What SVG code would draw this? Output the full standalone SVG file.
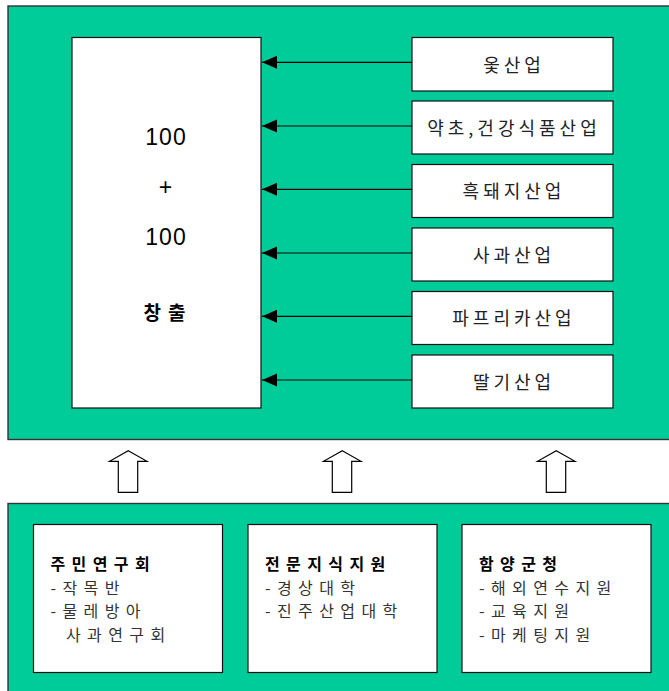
<svg xmlns="http://www.w3.org/2000/svg" width="669" height="691" viewBox="0 0 669 691">
<defs>
<style>
.panel{fill:#00CC99;stroke:#333;stroke-width:1.4}
.box{fill:#fff;stroke:#111;stroke-width:1.2}
.lbl{font-family:"Noto Sans CJK KR","Liberation Sans",sans-serif;font-size:18px;letter-spacing:4px;fill:#222;text-anchor:middle}
.num{font-family:"Liberation Sans","Noto Sans CJK KR",sans-serif;font-size:23px;letter-spacing:1px;fill:#000;text-anchor:middle}
.ttl{font-family:"Noto Sans CJK KR",sans-serif;font-size:16px;font-weight:bold;letter-spacing:6.4px;fill:#000}
.body{font-family:"Noto Sans CJK KR",sans-serif;font-size:16px;letter-spacing:6.4px;fill:#333}
.conn{stroke:#000;stroke-width:1.2;fill:none}
.hollow{fill:#fff;stroke:#000;stroke-width:1.2;stroke-linejoin:miter}
</style>
<marker id="ah" markerUnits="userSpaceOnUse" markerWidth="16" markerHeight="14" refX="15" refY="7" orient="auto" viewBox="0 0 16 14">
<path d="M0,0.5 L15,7 L0,13.5 Z" fill="#000"/>
</marker>
</defs>
<g id="top-panel"><rect class="panel" x="8" y="6" width="675" height="433.5"/></g>
<g id="bottom-panel"><rect class="panel" x="8" y="503.5" width="675" height="200"/></g>
<g id="center-box">
<rect class="box" x="72" y="37.5" width="189" height="370.5"/>
<text class="num" x="166" y="144.5">100</text>
<text class="num" x="166" y="195">+</text>
<text class="num" x="166" y="245">100</text>
<text class="lbl" x="168" y="320" style="font-weight:bold;font-size:19px;letter-spacing:7px;fill:#000">창출</text>
</g>
<g id="ind1"><rect class="box" x="412" y="37.5" width="201" height="53.5"/><text class="lbl" x="514" y="71.5">옻산업</text></g>
<g id="ind2"><rect class="box" x="412" y="101" width="201" height="53"/><text class="lbl" x="514" y="134.5">약초,건강식품산업</text></g>
<g id="ind3"><rect class="box" x="412" y="164.5" width="201" height="53"/><text class="lbl" x="514" y="198">흑돼지산업</text></g>
<g id="ind4"><rect class="box" x="412" y="228" width="201" height="53"/><text class="lbl" x="514" y="261.5">사과산업</text></g>
<g id="ind5"><rect class="box" x="412" y="291.5" width="201" height="53"/><text class="lbl" x="514" y="325">파프리카산업</text></g>
<g id="ind6"><rect class="box" x="412" y="355" width="201" height="53"/><text class="lbl" x="514" y="388.5">딸기산업</text></g>
<g id="sup1">
<rect class="box" x="33.5" y="524.5" width="189" height="148"/>
<text class="ttl" x="50.5" y="570">주민연구회</text>
<text class="body" x="50.5" y="594">-작목반</text>
<text class="body" x="50.5" y="617.3">-물레방아</text>
<text class="body" x="66" y="640.6">사과연구회</text>
</g>
<g id="sup2">
<rect class="box" x="248" y="524.5" width="189" height="148"/>
<text class="ttl" x="265" y="570">전문지식지원</text>
<text class="body" x="265" y="594">-경상대학</text>
<text class="body" x="265" y="617.3">-진주산업대학</text>
</g>
<g id="sup3">
<rect class="box" x="462" y="524.5" width="189" height="148"/>
<text class="ttl" x="479" y="570">함양군청</text>
<text class="body" x="479" y="594">-해외연수지원</text>
<text class="body" x="479" y="617.3">-교육지원</text>
<text class="body" x="479" y="640.6">-마케팅지원</text>
</g>
<g id="connectors">
<line class="conn" x1="412" y1="62.3" x2="262" y2="62.3" marker-end="url(#ah)"/>
<line class="conn" x1="412" y1="126" x2="262" y2="126" marker-end="url(#ah)"/>
<line class="conn" x1="412" y1="189.3" x2="262" y2="189.3" marker-end="url(#ah)"/>
<line class="conn" x1="412" y1="253" x2="262" y2="253" marker-end="url(#ah)"/>
<line class="conn" x1="412" y1="316.3" x2="262" y2="316.3" marker-end="url(#ah)"/>
<line class="conn" x1="412" y1="380" x2="262" y2="380" marker-end="url(#ah)"/>
<path class="hollow" d="M128.3,450.7 L147,461.3 L137.7,461.3 L137.7,492.3 L118.3,492.3 L118.3,461.3 L109.5,461.3 Z"/>
<path class="hollow" d="M342.3,450.7 L361,461.3 L351.7,461.3 L351.7,492.3 L332.3,492.3 L332.3,461.3 L323.5,461.3 Z"/>
<path class="hollow" d="M556.3,450.7 L575,461.3 L565.7,461.3 L565.7,492.3 L546.3,492.3 L546.3,461.3 L537.5,461.3 Z"/>
</g>
</svg>
